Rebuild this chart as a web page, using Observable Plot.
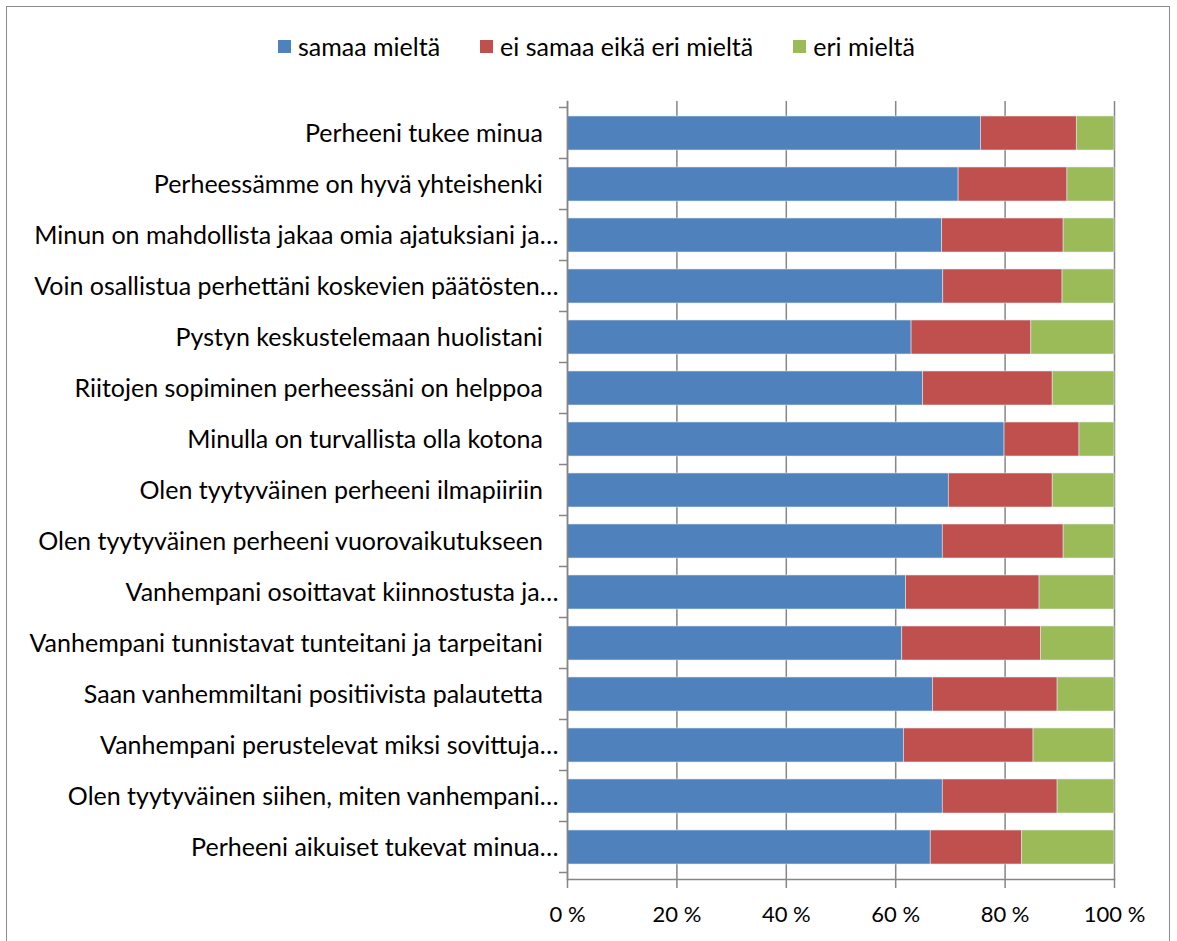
<!DOCTYPE html>
<html><head><meta charset="utf-8">
<script src="https://cdn.jsdelivr.net/npm/d3@7"></script>
<script src="https://cdn.jsdelivr.net/npm/@observablehq/plot@0.6"></script>
<style>
body{margin:0;background:#fff;font-family:Lato,"Open Sans",sans-serif;}
#frame{position:absolute;left:6px;top:6px;width:1164px;height:945px;border:1.5px solid #8c8c8c;box-sizing:border-box;}
#legend{position:absolute;left:0;top:30px;width:1177px;padding-left:16px;box-sizing:border-box;display:flex;justify-content:center;font-size:25px;line-height:32px;color:#000;}
.item{display:flex;align-items:center;margin:0 20px;}
.sw{width:13px;height:13px;margin-right:7px;}
#chart{position:absolute;left:0;top:90px;}
</style></head>
<body>
<div id="frame"></div>
<div id="legend"></div>
<div id="chart"></div>
<script>
const categories = [
  "Perheeni tukee minua",
  "Perheessämme on hyvä yhteishenki",
  "Minun on mahdollista jakaa omia ajatuksiani ja…",
  "Voin osallistua perhettäni koskevien päätösten…",
  "Pystyn keskustelemaan huolistani",
  "Riitojen sopiminen perheessäni on helppoa",
  "Minulla on turvallista olla kotona",
  "Olen tyytyväinen perheeni ilmapiiriin",
  "Olen tyytyväinen perheeni vuorovaikutukseen",
  "Vanhempani osoittavat kiinnostusta ja…",
  "Vanhempani tunnistavat tunteitani ja tarpeitani",
  "Saan vanhemmiltani positiivista palautetta",
  "Vanhempani perustelevat miksi sovittuja…",
  "Olen tyytyväinen siihen, miten vanhempani…",
  "Perheeni aikuiset tukevat minua…"
];
const series = ["samaa mieltä", "ei samaa eikä eri mieltä", "eri mieltä"];
const colors = ["#4F81BD", "#C0504D", "#9BBB59"];
const samaa   = [75.6, 71.5, 68.5, 68.7, 62.9, 65.0, 79.9, 69.7, 68.6, 61.9, 61.2, 66.8, 61.5, 68.6, 66.4];
const eiSamaa = [17.5, 19.9, 22.2, 21.8, 21.9, 23.7, 13.7, 19.0, 22.1, 24.4, 25.4, 22.8, 23.7, 21.0, 16.7];
const eri     = [6.9, 8.6, 9.3, 9.5, 15.2, 11.3, 6.4, 11.3, 9.3, 13.7, 13.4, 10.4, 14.8, 10.4, 16.9];
const xTicks = [0, 20, 40, 60, 80, 100];

const values = [samaa, eiSamaa, eri];
const rows = [];
categories.forEach((c, i) => series.forEach((s, j) => rows.push({cat: c, series: s, value: values[j][i]})));

// legend
const lg = document.getElementById("legend");
series.forEach((s, j) => {
  const it = document.createElement("div"); it.className = "item";
  const sw = document.createElement("div"); sw.className = "sw"; sw.style.background = colors[j];
  const t = document.createElement("span"); t.textContent = s;
  it.append(sw, t); lg.append(it);
});

const font = "Lato, 'Open Sans', sans-serif";
const chart = Plot.plot({
  width: 1177, height: 851,
  marginLeft: 567, marginRight: 63, marginTop: 11, marginBottom: 62,
  style: {fontFamily: font, fontSize: "22px", color: "#000", background: "transparent", overflow: "visible"},
  x: {domain: [0, 100], label: null},
  y: {domain: categories, paddingInner: 0.33, paddingOuter: 0.165, label: null},
  color: {domain: series, range: colors},
  marks: [
    Plot.gridX(xTicks, {stroke: "#868686", strokeOpacity: 1, strokeWidth: 1.5}),
    Plot.barX(rows, Plot.stackX({x: "value", y: "cat", fill: "series", order: series, stroke: "#dfe6ee", strokeWidth: 0.6})),
    Plot.frame({anchor: "left", stroke: "#868686", strokeWidth: 1.5}),
    Plot.frame({anchor: "bottom", stroke: "#868686", strokeWidth: 1.5}),
    Plot.axisX(xTicks, {tickSize: 9, tickPadding: 18, stroke: "#868686", strokeWidth: 1.5, tickFormat: d => d + " %", fontSize: 22}),
    Plot.axisY({tickSize: 0, tickPadding: 9, fontSize: 25, tickFormat: d => d.endsWith("…") ? d : d + "\u2002\u2009"})
  ]
});
document.getElementById("chart").append(chart);

// small tick marks on the category axis at band boundaries, derived from the y scale
const ys = chart.scale("y");
const xs = chart.scale("x");
const step = ys.step, bw = ys.bandwidth;
const svg = d3.select(chart);
const x0 = xs.apply(0);
const bounds = categories.map(c => ys.apply(c) - (step - bw) / 2);
bounds.push(ys.apply(categories[categories.length - 1]) + bw + (step - bw) / 2);
svg.append("g").selectAll("line").data(bounds).join("line")
  .attr("x1", x0 - 8).attr("x2", x0).attr("y1", d => d).attr("y2", d => d)
  .attr("stroke", "#868686").attr("stroke-width", 1.5);
</script>
</body></html>
